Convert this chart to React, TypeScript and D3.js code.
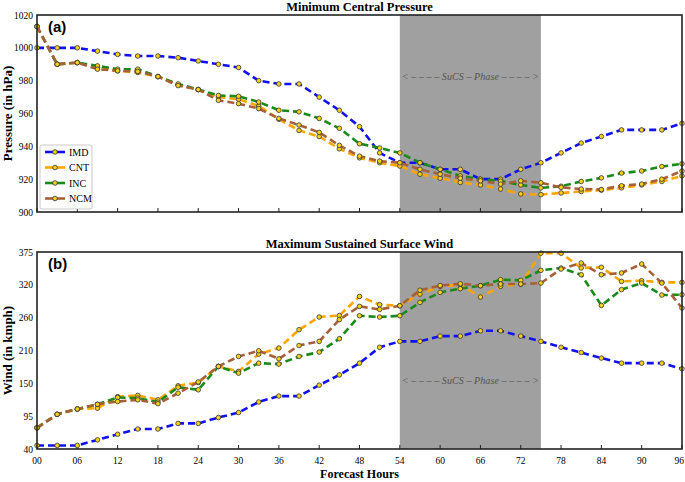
import * as d3 from "d3";

const hours = [0, 3, 6, 9, 12, 15, 18, 21, 24, 27, 30, 33, 36, 39, 42, 45, 48, 51, 54, 57, 60, 63, 66, 69, 72, 75, 78, 81, 84, 87, 90, 93, 96];
const hourTicks = ["00", "06", "12", "18", "24", "30", "36", "42", "48", "54", "60", "66", "72", "78", "84", "90", "96"];

const pressureTicks = [900, 920, 940, 960, 980, 1000, 1020];
const windTickLabels = ["40", "95", "150", "210", "260", "320", "375"];

const pressureIMD = [1000, 1000, 1000, 998, 996, 995, 995, 994, 992, 990, 988, 980, 978, 978, 970, 962, 952, 936, 930, 930, 926, 926, 920, 920, 926, 930, 936, 942, 946, 950, 950, 950, 954];
const pressureCNT = [1013, 990, 991, 988, 986, 985, 982.5, 977.5, 974.6, 970, 968.7, 964.6, 956.5, 949.7, 946, 938.5, 933, 930, 928, 923, 920.6, 918, 916.5, 914, 911, 910.6, 911.6, 912.5, 913.3, 914.7, 916.5, 918.6, 922];
const pressureINC = [1013, 990, 991, 989, 987, 987, 982.5, 978, 974.6, 971, 970.5, 967, 962, 961, 957, 951, 941.6, 939, 936, 930, 926, 922, 920, 918.8, 916.5, 914.7, 915.7, 918.6, 920.8, 923.7, 925, 927.7, 929.4];
const pressureNCM = [1013, 990, 991, 987, 986, 985.6, 982.5, 977, 974.6, 968, 966, 963, 957, 953, 948.5, 940.6, 934, 931, 930, 926, 923, 920.6, 919, 917, 919, 917.8, 915, 914, 913.7, 916, 917, 920, 925];

const windIMD = [46, 46, 46, 55.5, 65, 74, 74, 83.5, 83.5, 93.5, 102, 120, 130, 130, 148.6, 166, 186, 213, 223, 223, 232, 232, 241, 241, 232, 223, 213, 204, 194.6, 186, 186, 186, 176.4];
const windCNT = [76, 99, 108, 109.5, 129, 131, 123.6, 147.5, 153, 180.4, 172, 201.4, 211.6, 242.8, 264.4, 267, 299.5, 285.4, 283.6, 303.5, 316.6, 319.4, 298.4, 316.6, 320.5, 373, 373, 347.8, 349, 325, 326.2, 323.4, 323.4];
const windINC = [76, 99, 108, 116, 127.6, 126.5, 119.7, 145, 140.7, 180.4, 169, 186, 184.4, 197.4, 204.8, 227.5, 266.6, 264.4, 266.6, 289.3, 306.3, 312.6, 317.7, 328, 326.8, 343.8, 347.8, 336.4, 284.2, 311, 322.2, 301.8, 302.4];
const windNCM = [76, 99, 108, 116, 120.8, 123.6, 117, 135, 154, 180.4, 197.4, 207, 193.4, 216, 223, 260, 282.5, 277.4, 283.6, 310, 318, 321, 317.7, 320.5, 320.5, 322.2, 346, 356.3, 336.4, 339.3, 354.6, 322.2, 279.7];

const seriesNames = ["IMD", "CNT", "INC", "NCM"];
const seriesColors = ["#1010f0", "#ffa500", "#1a8a1a", "#a8603a"];
const sucsPhase = [54, 75];

const width = 685;
const height = 482;
const left = 37;
const right = 682;
const topPanel = { y0: 15, y1: 212 };
const botPanel = { y0: 252, y1: 449 };
const serif = "'Liberation Serif', 'DejaVu Serif', serif";

const x = d3.scaleLinear().domain([0, 96]).range([left, right]);
const yP = d3.scaleLinear().domain([900, 1020]).range([topPanel.y1, topPanel.y0]);
const yW = d3.scaleLinear().domain([40, 375]).range([botPanel.y1, botPanel.y0]);
const yWTicks = d3.scalePoint<string>().domain(windTickLabels).range([botPanel.y1, botPanel.y0]);

function Series({ values, y, color }: { values: number[]; y: d3.ScaleLinear<number, number>; color: string }) {
  const line = d3
    .line<number>()
    .x((_, i) => x(hours[i]))
    .y((v) => y(v));
  return (
    <g>
      <path d={line(values) ?? ""} fill="none" stroke={color} strokeWidth={2.6} strokeDasharray="7 4" />
      {values.map((v, i) => (
        <circle key={i} cx={x(hours[i])} cy={y(v)} r={2.3} fill="#f7d117" stroke="#333" strokeWidth={0.8} />
      ))}
    </g>
  );
}

function Panel({
  y0,
  y1,
  title,
  label,
  yTitle,
  data,
  y,
  children
}: {
  y0: number;
  y1: number;
  title: string;
  label: string;
  yTitle: string;
  data: number[][];
  y: d3.ScaleLinear<number, number>;
  children?: React.ReactNode;
}) {
  const mid = (y0 + y1) / 2;
  const clipId = `clip-${label}`;
  return (
    <g>
      <clipPath id={clipId}>
        <rect x={left} y={y0} width={right - left} height={y1 - y0} />
      </clipPath>
      <text x={(left + right) / 2} y={y0 - 4} textAnchor="middle" fontFamily={serif} fontSize={12.5} fontWeight="bold">
        {title}
      </text>
      <rect
        x={x(sucsPhase[0])}
        y={y0}
        width={x(sucsPhase[1]) - x(sucsPhase[0])}
        height={y1 - y0}
        fill="#a0a0a0"
      />
      {hourTicks.map((t) => (
        <line key={t} x1={x(+t)} x2={x(+t)} y1={y1} y2={y1 - 4} stroke="#222" strokeWidth={1} />
      ))}
      <g clipPath={`url(#${clipId})`}>
        {data.map((values, i) => (
          <Series key={seriesNames[i]} values={values} y={y} color={seriesColors[i]} />
        ))}
      </g>
      <rect x={left} y={y0} width={right - left} height={y1 - y0} fill="none" stroke="#222" strokeWidth={1.6} />
      <text x={left + 11} y={y0 + 17} fontFamily="'Liberation Sans', Arial, sans-serif" fontSize={15} fontWeight="bold">
        {label}
      </text>
      <text
        transform={`translate(12,${mid}) rotate(-90)`}
        textAnchor="middle"
        fontFamily={serif}
        fontSize={13}
        fontWeight="bold"
      >
        {yTitle}
      </text>
      {children}
    </g>
  );
}

function SucsLabel({ yPos }: { yPos: number }) {
  const x0 = x(sucsPhase[0]);
  const x1 = x(sucsPhase[1]);
  return (
    <text
      x={(x0 + x1) / 2}
      y={yPos}
      textAnchor="middle"
      fontFamily={serif}
      fontStyle="italic"
      fontSize={10}
      fill="#555"
      textLength={x1 - x0 - 4}
      lengthAdjust="spacing"
    >
      {"< – – – – SuCS – Phase – – – – >"}
    </text>
  );
}

export default function App() {
  return (
    <svg width={width} height={height} style={{ position: "absolute", left: 0, top: 0, background: "#fff" }}>
      <Panel
        y0={topPanel.y0}
        y1={topPanel.y1}
        title="Minimum Central Pressure"
        label="(a)"
        yTitle="Pressure (in hPa)"
        data={[pressureIMD, pressureCNT, pressureINC, pressureNCM]}
        y={yP}
      >
        <SucsLabel yPos={80} />
        {pressureTicks.map((t) => (
          <text key={t} x={left - 4} y={yP(t) + 3.5} textAnchor="end" fontFamily={serif} fontSize={9.5}>
            {t}
          </text>
        ))}
        <g transform="translate(40,145)">
          <rect width={52} height={64} rx={2} fill="#fff" stroke="#bbb" strokeWidth={0.8} />
          {seriesNames.map((name, i) => (
            <g key={name} transform={`translate(0,${7 + i * 15.5})`}>
              <line x1={5} x2={25} y1={0} y2={0} stroke={seriesColors[i]} strokeWidth={2.6} />
              <circle cx={15} cy={0} r={2.3} fill="#f7d117" stroke="#333" strokeWidth={0.8} />
              <text x={29} y={3.5} fontFamily={serif} fontSize={10}>
                {name}
              </text>
            </g>
          ))}
        </g>
      </Panel>
      <Panel
        y0={botPanel.y0}
        y1={botPanel.y1}
        title="Maximum Sustained Surface Wind"
        label="(b)"
        yTitle="Wind (in kmph)"
        data={[windIMD, windCNT, windINC, windNCM]}
        y={yW}
      >
        <SucsLabel yPos={384} />
        {windTickLabels.map((t) => (
          <text key={t} x={left - 4} y={(yWTicks(t) ?? 0) + 3.5} textAnchor="end" fontFamily={serif} fontSize={9.5}>
            {t}
          </text>
        ))}
        {hourTicks.map((t, i) => {
          const last = i === hourTicks.length - 1;
          return (
            <text
              key={t}
              x={last ? width - 1 : x(+t)}
              y={botPanel.y1 + 15}
              textAnchor={last ? "end" : "middle"}
              fontFamily={serif}
              fontSize={9.5}
            >
              {t}
            </text>
          );
        })}
        <text x={(left + right) / 2} y={478} textAnchor="middle" fontFamily={serif} fontSize={12} fontWeight="bold">
          Forecast Hours
        </text>
      </Panel>
    </svg>
  );
}
